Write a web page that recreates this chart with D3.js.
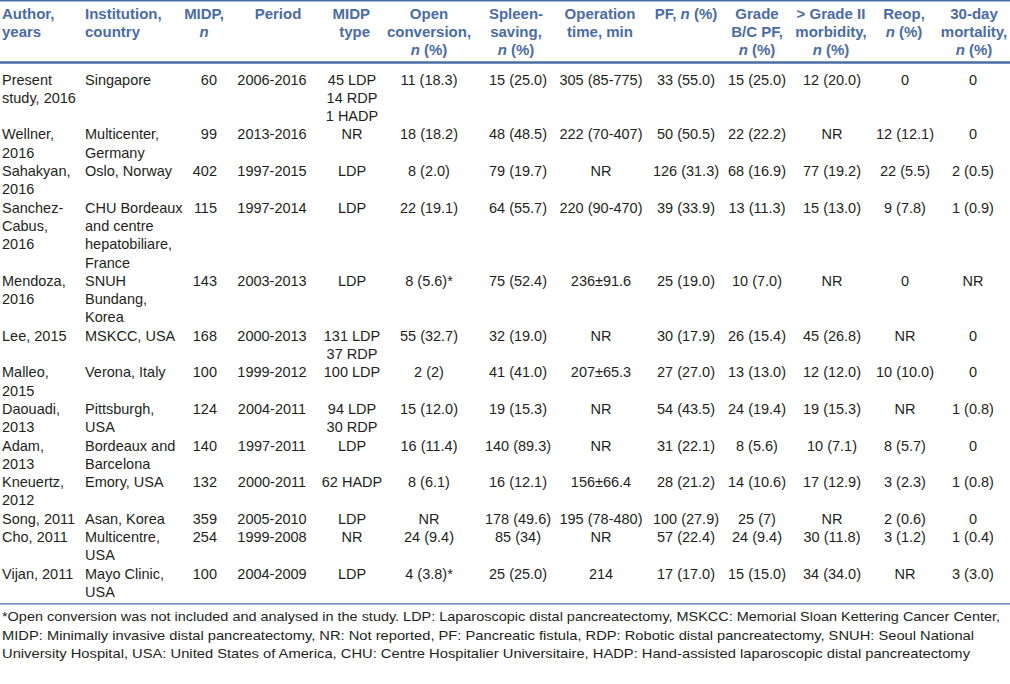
<!DOCTYPE html>
<html>
<head>
<meta charset="utf-8">
<script src="https://cdn.jsdelivr.net/npm/d3@7"></script>
<style>
  html, body { margin: 0; padding: 0; background: #ffffff; }
  svg { display: block; }
  text { font-family: "Liberation Sans", Arial, Helvetica, sans-serif; }
</style>
</head>
<body>
<svg id="chart" width="1010" height="684"></svg>
<script>
const columns = ["author", "institution", "midpN", "period", "midpType", "openConv", "spleen", "opTime", "pf", "gradeBC", "morbidity", "reop", "mortality"];

const headers = [
  ["Author,", "years"],
  ["Institution,", "country"],
  ["MIDP,", "*n*"],
  ["Period"],
  ["MIDP", "type"],
  ["Open", "conversion,", "*n* (%)"],
  ["Spleen-", "saving,", "*n* (%)"],
  ["Operation", "time, min"],
  ["PF, *n* (%)"],
  ["Grade", "B/C PF,", "*n* (%)"],
  ["> Grade II", "morbidity,", "*n* (%)"],
  ["Reop,", "*n* (%)"],
  ["30-day", "mortality,", "*n* (%)"]
];

const authors = ["Present\nstudy, 2016", "Wellner,\n2016", "Sahakyan,\n2016", "Sanchez-\nCabus,\n2016", "Mendoza,\n2016", "Lee, 2015", "Malleo,\n2015", "Daouadi,\n2013", "Adam,\n2013", "Kneuertz,\n2012", "Song, 2011", "Cho, 2011", "Vijan, 2011"];
const institutions = ["Singapore", "Multicenter,\nGermany", "Oslo, Norway", "CHU Bordeaux\nand centre\nhepatobiliare,\nFrance", "SNUH\nBundang,\nKorea", "MSKCC, USA", "Verona, Italy", "Pittsburgh,\nUSA", "Bordeaux and\nBarcelona", "Emory, USA", "Asan, Korea", "Multicentre,\nUSA", "Mayo Clinic,\nUSA"];
const midpN = ["60", "99", "402", "115", "143", "168", "100", "124", "140", "132", "359", "254", "100"];
const periods = ["2006-2016", "2013-2016", "1997-2015", "1997-2014", "2003-2013", "2000-2013", "1999-2012", "2004-2011", "1997-2011", "2000-2011", "2005-2010", "1999-2008", "2004-2009"];
const midpType = ["45 LDP\n14 RDP\n1 HADP", "NR", "LDP", "LDP", "LDP", "131 LDP\n37 RDP", "100 LDP", "94 LDP\n30 RDP", "LDP", "62 HADP", "LDP", "NR", "LDP"];
const openConv = ["11 (18.3)", "18 (18.2)", "8 (2.0)", "22 (19.1)", "8 (5.6)*", "55 (32.7)", "2 (2)", "15 (12.0)", "16 (11.4)", "8 (6.1)", "NR", "24 (9.4)", "4 (3.8)*"];
const spleenSaving = ["15 (25.0)", "48 (48.5)", "79 (19.7)", "64 (55.7)", "75 (52.4)", "32 (19.0)", "41 (41.0)", "19 (15.3)", "140 (89.3)", "16 (12.1)", "178 (49.6)", "85 (34)", "25 (25.0)"];
const opTime = ["305 (85-775)", "222 (70-407)", "NR", "220 (90-470)", "236±91.6", "NR", "207±65.3", "NR", "NR", "156±66.4", "195 (78-480)", "NR", "214"];
const pfRate = ["33 (55.0)", "50 (50.5)", "126 (31.3)", "39 (33.9)", "25 (19.0)", "30 (17.9)", "27 (27.0)", "54 (43.5)", "31 (22.1)", "28 (21.2)", "100 (27.9)", "57 (22.4)", "17 (17.0)"];
const gradeBC = ["15 (25.0)", "22 (22.2)", "68 (16.9)", "13 (11.3)", "10 (7.0)", "26 (15.4)", "13 (13.0)", "24 (19.4)", "8 (5.6)", "14 (10.6)", "25 (7)", "24 (9.4)", "15 (15.0)"];
const morbidity = ["12 (20.0)", "NR", "77 (19.2)", "15 (13.0)", "NR", "45 (26.8)", "12 (12.0)", "19 (15.3)", "10 (7.1)", "17 (12.9)", "NR", "30 (11.8)", "34 (34.0)"];
const reop = ["0", "12 (12.1)", "22 (5.5)", "9 (7.8)", "0", "NR", "10 (10.0)", "NR", "8 (5.7)", "3 (2.3)", "2 (0.6)", "3 (1.2)", "NR"];
const mortality = ["0", "0", "2 (0.5)", "1 (0.9)", "NR", "0", "0", "1 (0.8)", "0", "1 (0.8)", "0", "1 (0.4)", "3 (3.0)"];

const footnotes = [
  "*Open conversion was not included and analysed in the study. LDP: Laparoscopic distal pancreatectomy, MSKCC: Memorial Sloan Kettering Cancer Center,",
  "MIDP: Minimally invasive distal pancreatectomy, NR: Not reported, PF: Pancreatic fistula, RDP: Robotic distal pancreatectomy, SNUH: Seoul National",
  "University Hospital, USA: United States of America, CHU: Centre Hospitalier Universitaire, HADP: Hand-assisted laparoscopic distal pancreatectomy"
];

// ---- Build table ----
const valueCols = [authors, institutions, midpN, periods, midpType, openConv, spleenSaving, opTime, pfRate, gradeBC, morbidity, reop, mortality];
const rows = authors.map((_, i) => valueCols.map(col => col[i].split("\n")));

// ---- Layout ----
const W = 1010;
const BLUE = "#4a6ca7";
const INK = "#231f20";
const FS = 14.5;
const LINE = 18.3;

// column anchor positions / alignment
const colX = d3.scaleOrdinal().domain(columns)
  .range([2, 85, 217, 272, 352, 429, 518, 601, 686, 757, 832, 905, 973]);
const colAnchor = d3.scaleOrdinal().domain(columns)
  .range(["start", "start", "end", "middle", "middle", "middle", "middle", "middle", "middle", "middle", "middle", "middle", "middle"]);
const headX = d3.scaleOrdinal().domain(columns)
  .range([2, 85, 204, 278, 370, 429, 516, 600, 686, 757, 831, 904, 974]);
const headAnchor = d3.scaleOrdinal().domain(columns)
  .range(["start", "start", "middle", "middle", "end", "middle", "middle", "middle", "middle", "middle", "middle", "middle", "middle"]);

// vertical: line index -> baseline
const lineCounts = rows.map(r => d3.max(r, c => c.length));
const starts = [0, ...d3.cumsum(lineCounts)];
const totalLines = starts[starts.length - 1];
const yLine = d3.scaleLinear().domain([0, totalLines]).range([84.5, 84.5 + totalLines * LINE]);
const yHead = d3.scaleLinear().domain([0, 3]).range([18.5, 18.5 + 3 * 18.3]);

const svg = d3.select("#chart");

// rules
svg.append("line").attr("x1", 0).attr("x2", W).attr("y1", 0.8).attr("y2", 0.8)
  .attr("stroke", BLUE).attr("stroke-width", 1.6);
svg.append("line").attr("x1", 0).attr("x2", W).attr("y1", 62.5).attr("y2", 62.5)
  .attr("stroke", BLUE).attr("stroke-width", 2.6);
const bottomY = yLine(totalLines - 1) + 7;
svg.append("line").attr("x1", 0).attr("x2", W).attr("y1", bottomY).attr("y2", bottomY)
  .attr("stroke", BLUE).attr("stroke-width", 1.2);

// helper for *italic* markup
function addRich(sel, str) {
  const parts = str.split(/(\*[^*]+\*)/).filter(p => p.length);
  parts.forEach(p => {
    if (p.startsWith("*") && p.endsWith("*") && p.length > 2) {
      sel.append("tspan").attr("font-style", "italic").text(p.slice(1, -1));
    } else {
      sel.append("tspan").text(p);
    }
  });
}

// header
const hg = svg.append("g").attr("font-size", 15).attr("font-weight", "bold").attr("fill", BLUE);
headers.forEach((lines, ci) => {
  const key = columns[ci];
  lines.forEach((ln, li) => {
    const t = hg.append("text")
      .attr("x", headX(key))
      .attr("y", yHead(li))
      .attr("text-anchor", headAnchor(key));
    addRich(t, ln);
  });
});

// body
const bg = svg.append("g").attr("font-size", FS).attr("fill", INK);
rows.forEach((r, ri) => {
  r.forEach((cellLines, ci) => {
    const key = columns[ci];
    cellLines.forEach((ln, li) => {
      bg.append("text")
        .attr("x", colX(key))
        .attr("y", yLine(starts[ri] + li))
        .attr("text-anchor", colAnchor(key))
        .text(ln);
    });
  });
});

// footnotes
const fy = d3.scaleLinear().domain([0, 1]).range([bottomY + 17, bottomY + 17 + 18.6]);
const fg = svg.append("g").attr("font-size", 13.6).attr("fill", INK);
const fWidths = [998, 972, 968];
footnotes.forEach((ln, i) => {
  fg.append("text").attr("x", 2).attr("y", fy(i))
    .attr("textLength", fWidths[i]).attr("lengthAdjust", "spacingAndGlyphs")
    .text(ln);
});
</script>
</body>
</html>
